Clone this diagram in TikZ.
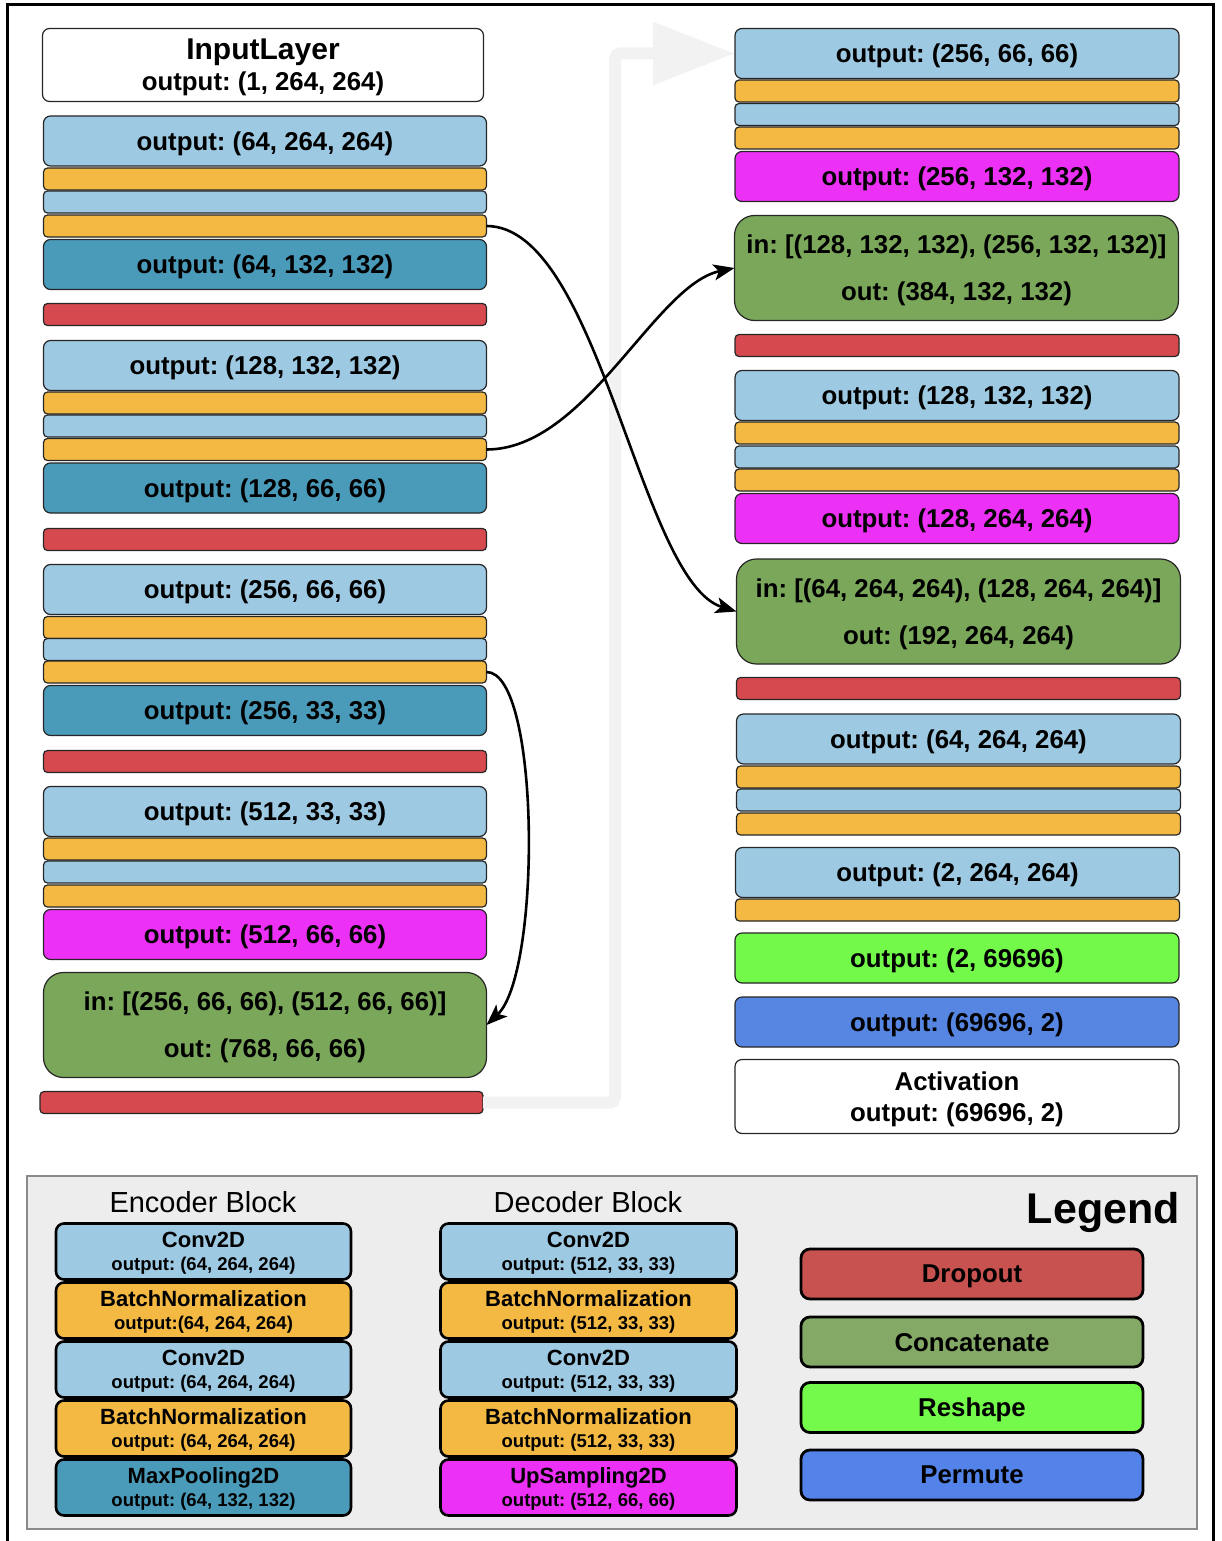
\documentclass[tikz,border=0pt]{standalone}
\usepackage{fontspec}
\setmainfont{Liberation Sans}
\frenchspacing
\usetikzlibrary{arrows.meta}
\definecolor{convblue}{HTML}{9DC9E2}
\definecolor{bnorange}{HTML}{F3B943}
\definecolor{poolteal}{HTML}{4A9ABA}
\definecolor{dropred}{HTML}{D64A4F}
\definecolor{upmag}{HTML}{ED30F5}
\definecolor{catgreen}{HTML}{7AA75A}
\definecolor{reshlime}{HTML}{72F949}
\definecolor{permblue}{HTML}{5685E2}
\definecolor{keyred}{HTML}{C85250}
\definecolor{keygreen}{HTML}{84A866}
\definecolor{keylime}{HTML}{74FA4B}
\definecolor{keyblue}{HTML}{5383E8}
\definecolor{skipgrey}{HTML}{F2F2F2}
\definecolor{legendbg}{HTML}{EDEDED}
\definecolor{legendedge}{HTML}{8A8A8A}
\begin{document}
\begin{tikzpicture}[x=1pt,y=-1pt,
    box/.style={draw=black!85,line width=1.2pt,inner sep=0pt,outer sep=0pt,rounded corners=7pt,
      align=center,text depth=0pt,font=\fontsize{25.8}{47}\selectfont\bfseries},
    big/.style={box,minimum height=50pt},
    slim/.style={box,minimum height=22pt,rounded corners=4pt},
    lcol/.style={minimum width=443pt},
    rcol/.style={minimum width=444pt},
    conv/.style={fill=convblue},
    bnorm/.style={fill=bnorange},
    pool/.style={fill=poolteal},
    drop/.style={fill=dropred},
    upsamp/.style={fill=upmag},
    concat/.style={box,fill=catgreen,minimum height=105pt,rounded corners=20pt},
    conn/.style={line width=2.6pt,-{Stealth[length=21pt,width=16pt,inset=5pt]}},
    stack/.style={draw=black,line width=2.6pt,inner sep=0pt,rounded corners=8pt,minimum height=56pt,
      align=center,text depth=0pt,font=\fontsize{22}{23}\selectfont\bfseries},
    swatch/.style={draw=black,line width=2.8pt,inner sep=0pt,rounded corners=9pt,minimum width=342pt,
      minimum height=50pt,text depth=0pt,font=\fontsize{25.8}{30}\selectfont\bfseries}]
  \useasboundingbox (0,0) rectangle (1221,1541);
  \draw[line width=3pt] (7.5,1541) -- (7.5,5) -- (1213.5,5) -- (1213.5,1541);

  \node[box,minimum width=441pt,minimum height=73pt,fill=white,font=\fontsize{25.8}{31}\selectfont\bfseries]
    (input) at (263,65) {{\fontsize{30}{31}\selectfont InputLayer}\\output: (1, 264, 264)};
  \node[big,lcol,conv] (c11) at (265,141) {output: (64, 264, 264)};
  \node[slim,lcol,bnorm] (b11) at (265,179) {};
  \node[slim,lcol,conv] (c12) at (265,202) {};
  \node[slim,lcol,bnorm] (b12) at (265,226) {};
  \node[big,lcol,pool] (p1) at (265,264.5) {output: (64, 132, 132)};
  \node[slim,lcol,drop] (d1) at (265,314.5) {};
  \node[big,lcol,conv] (c21) at (265,365.5) {output: (128, 132, 132)};
  \node[slim,lcol,bnorm] (b21) at (265,403) {};
  \node[slim,lcol,conv] (c22) at (265,426) {};
  \node[slim,lcol,bnorm] (b22) at (265,449.5) {};
  \node[big,lcol,pool] (p2) at (265,488) {output: (128, 66, 66)};
  \node[slim,lcol,drop] (d2) at (265,539.5) {};
  \node[big,lcol,conv] (c31) at (265,589.5) {output: (256, 66, 66)};
  \node[slim,lcol,bnorm] (b31) at (265,627.5) {};
  \node[slim,lcol,conv] (c32) at (265,649.5) {};
  \node[slim,lcol,bnorm] (b32) at (265,672) {};
  \node[big,lcol,pool] (p3) at (265,710.5) {output: (256, 33, 33)};
  \node[slim,lcol,drop] (d3) at (265,761.5) {};
  \node[big,lcol,conv] (c41) at (265,811.5) {output: (512, 33, 33)};
  \node[slim,lcol,bnorm] (b41) at (265,849) {};
  \node[slim,lcol,conv] (c42) at (265,872) {};
  \node[slim,lcol,bnorm] (b42) at (265,896) {};
  \node[big,lcol,upsamp] (u4) at (265,934.5) {output: (512, 66, 66)};
  \node[concat,lcol] (cat4) at (265,1025) {in: [(256, 66, 66), (512, 66, 66)]\\out: (768, 66, 66)};
  \node[slim,lcol,drop] (d4) at (261.5,1102.5) {};

  \node[big,rcol,conv] (r1) at (957,53.5) {output: (256, 66, 66)};
  \node[slim,rcol,bnorm] (rb1) at (957,91) {};
  \node[slim,rcol,conv] (rc2) at (957,114.5) {};
  \node[slim,rcol,bnorm] (rb2) at (957,138) {};
  \node[big,rcol,upsamp] (ru1) at (957,176.5) {output: (256, 132, 132)};
  \node[concat,rcol] (rcat1) at (956.5,268) {in: [(128, 132, 132), (256, 132, 132)]\\out: (384, 132, 132)};
  \node[slim,rcol,drop] (rd1) at (957,345.5) {};
  \node[big,rcol,conv] (r3) at (957,395.5) {output: (128, 132, 132)};
  \node[slim,rcol,bnorm] (rb3) at (957,433) {};
  \node[slim,rcol,conv] (rc4) at (957,457) {};
  \node[slim,rcol,bnorm] (rb4) at (957,480) {};
  \node[big,rcol,upsamp] (ru2) at (957,518.5) {output: (128, 264, 264)};
  \node[concat,rcol] (rcat2) at (958.5,611.5) {in: [(64, 264, 264), (128, 264, 264)]\\out: (192, 264, 264)};
  \node[slim,rcol,drop] (rd2) at (958.5,688.5) {};
  \node[big,rcol,conv] (r5) at (958.5,739) {output: (64, 264, 264)};
  \node[slim,rcol,bnorm] (rb5) at (958.5,777) {};
  \node[slim,rcol,conv] (rc6) at (958.5,800) {};
  \node[slim,rcol,bnorm] (rb6) at (958.5,824) {};
  \node[big,rcol,conv] (r7) at (957.5,872.5) {output: (2, 264, 264)};
  \node[slim,rcol,bnorm] (rb7) at (957.5,910) {};
  \node[big,rcol,fill=reshlime] (resh) at (957,958) {output: (2, 69696)};
  \node[big,rcol,fill=permblue] (perm) at (957,1022) {output: (69696, 2)};
  \node[box,rcol,minimum height=74pt,fill=white,font=\fontsize{25.8}{31}\selectfont\bfseries]
    (act) at (957,1096.5) {Activation\\output: (69696, 2)};

  \coordinate (turn) at (615,1102.5);
  \draw[line width=12pt,skipgrey,rounded corners=5pt,-{Triangle[length=82pt,width=60pt]}]
    (d4.east) -- (turn) |- (r1.west);

  \draw[conn] (b12.east) .. controls +(113,0) and +(-97,-30) .. (rcat2.west);
  \draw[conn] (b22.east) .. controls +(100,0) and +(-80,17) .. (rcat1.west);
  \draw[conn] (b32.east) .. controls +(54,0) and +(55,-52) .. (cat4.east);

  \draw[fill=legendbg,draw=legendedge,line width=2pt] (26.5,1176) rectangle (1196.5,1529);
  \node[font=\fontsize{29}{30}\selectfont,anchor=base,inner sep=0pt] (enctitle) at (203,1212) {Encoder Block};
  \node[font=\fontsize{29}{30}\selectfont,anchor=base,inner sep=0pt] (dectitle) at (588,1212) {Decoder Block};
  \node[font=\fontsize{43}{44}\selectfont\bfseries,anchor=base east,inner sep=0pt] (legtitle) at (1180,1223) {Legend};

  \node[stack,minimum width=295pt,fill=convblue] (ek1) at (203.5,1251.5)
    {Conv2D\\{\fontsize{18.5}{23}\selectfont output: (64, 264, 264)}};
  \node[stack,minimum width=295pt,fill=bnorange] (ek2) at (203.5,1310.5)
    {BatchNormalization\\{\fontsize{18.5}{23}\selectfont output:(64, 264, 264)}};
  \node[stack,minimum width=295pt,fill=convblue] (ek3) at (203.5,1369.5)
    {Conv2D\\{\fontsize{18.5}{23}\selectfont output: (64, 264, 264)}};
  \node[stack,minimum width=295pt,fill=bnorange] (ek4) at (203.5,1428.5)
    {BatchNormalization\\{\fontsize{18.5}{23}\selectfont output: (64, 264, 264)}};
  \node[stack,minimum width=295pt,fill=poolteal] (ek5) at (203.5,1487.5)
    {MaxPooling2D\\{\fontsize{18.5}{23}\selectfont output: (64, 132, 132)}};

  \node[stack,minimum width=296pt,fill=convblue] (dk1) at (588.5,1251.5)
    {Conv2D\\{\fontsize{18.5}{23}\selectfont output: (512, 33, 33)}};
  \node[stack,minimum width=296pt,fill=bnorange] (dk2) at (588.5,1310.5)
    {BatchNormalization\\{\fontsize{18.5}{23}\selectfont output: (512, 33, 33)}};
  \node[stack,minimum width=296pt,fill=convblue] (dk3) at (588.5,1369.5)
    {Conv2D\\{\fontsize{18.5}{23}\selectfont output: (512, 33, 33)}};
  \node[stack,minimum width=296pt,fill=bnorange] (dk4) at (588.5,1428.5)
    {BatchNormalization\\{\fontsize{18.5}{23}\selectfont output: (512, 33, 33)}};
  \node[stack,minimum width=296pt,fill=upmag] (dk5) at (588.5,1487.5)
    {UpSampling2D\\{\fontsize{18.5}{23}\selectfont output: (512, 66, 66)}};

  \node[swatch,fill=keyred] (kdrop) at (972,1274) {Dropout};
  \node[swatch,fill=keygreen] (kcat) at (972,1342) {Concatenate};
  \node[swatch,fill=keylime] (kresh) at (972,1407.5) {Reshape};
  \node[swatch,fill=keyblue] (kperm) at (972,1475) {Permute};
\end{tikzpicture}
\end{document}
